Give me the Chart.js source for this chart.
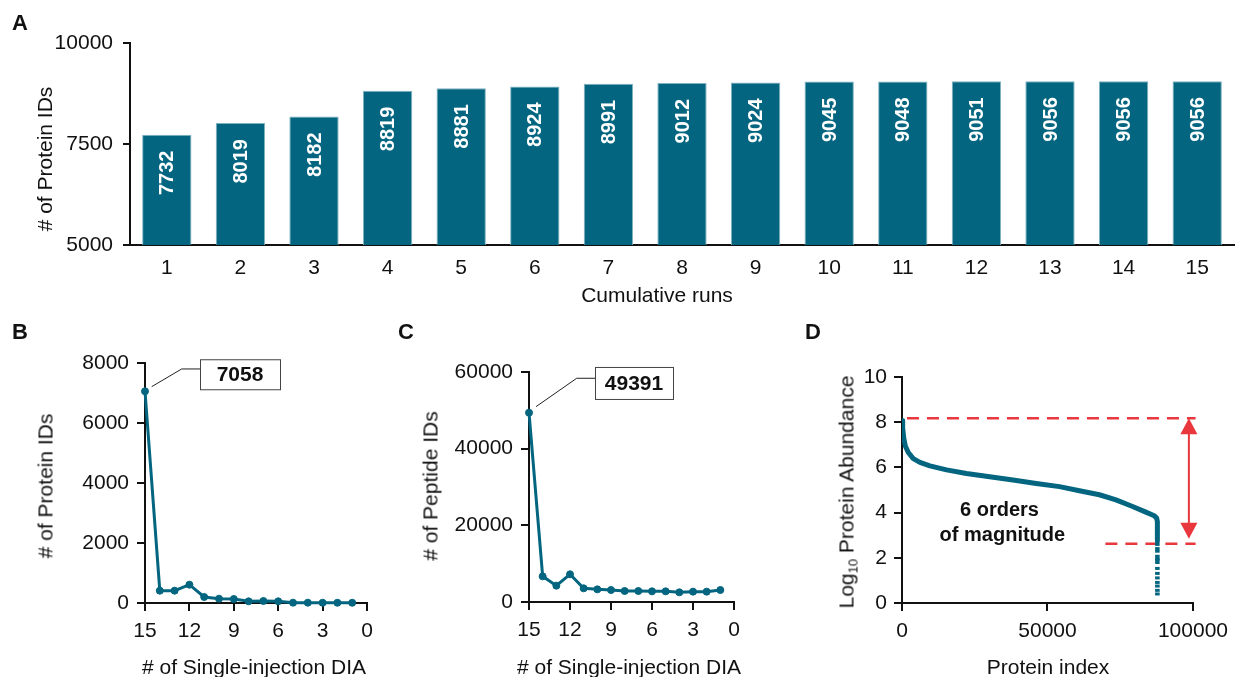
<!DOCTYPE html>
<html>
<head>
<meta charset="utf-8">
<script src="https://cdn.jsdelivr.net/npm/chart.js@4.4.1/dist/chart.umd.min.js"></script>
<style>
html, body { margin: 0; padding: 0; background: #fff; }
body { width: 1236px; height: 677px; position: relative; overflow: hidden;
       font-family: "Liberation Sans", Arial, Helvetica, sans-serif; color: #111; }
canvas { position: absolute; }
.t { position: absolute; white-space: nowrap; font-size: 21px; line-height: 1; transform: translate(-50%, -50%); }
.r { transform: translate(-50%, -50%) rotate(-90deg); }
.p { position: absolute; font-weight: bold; font-size: 22px; line-height: 1; }
sub { font-size: 13px; vertical-align: -4px; line-height: 0; }
</style>
</head>
<body>
<canvas id="chartA" width="1236" height="320" style="left:0;top:0"></canvas>
<canvas id="chartB" width="395" height="357" style="left:0;top:320px"></canvas>
<canvas id="chartC" width="395" height="357" style="left:400px;top:320px"></canvas>
<canvas id="chartD" width="436" height="357" style="left:800px;top:320px"></canvas>

<div class="p" style="left:12px;top:12px">A</div>
<div class="p" style="left:12px;top:321px">B</div>
<div class="p" style="left:398px;top:321px">C</div>
<div class="p" style="left:805px;top:321px">D</div>

<div class="t r" style="left:44px;top:159px"># of Protein IDs</div>
<div class="t" style="left:657px;top:294px">Cumulative runs</div>
<div class="t r" style="left:45px;top:486px"># of Protein IDs</div>
<div class="t" style="left:254px;top:666px"># of Single-injection DIA</div>
<div class="t r" style="left:430px;top:486px"># of Peptide IDs</div>
<div class="t" style="left:629px;top:666px"># of Single-injection DIA</div>
<div class="t r" style="left:846px;top:492px">Log<sub>10</sub> Protein Abundance</div>
<div class="t" style="left:1048px;top:666px">Protein index</div>

<script>
// panel A: cumulative protein IDs
const runs = ['1', '2', '3', '4', '5', '6', '7', '8', '9', '10', '11', '12', '13', '14', '15'];
const cumulativeIDs = [7732, 8019, 8182, 8819, 8881, 8924, 8991, 9012, 9024, 9045, 9048, 9051, 9056, 9056, 9056];

// panels B and C: IDs found in exactly n single-injection runs
const injections = [15, 14, 13, 12, 11, 10, 9, 8, 7, 6, 5, 4, 3, 2, 1];
const proteinIDs = [7058, 411, 411, 611, 200, 144, 133, 56, 67, 56, 11, 11, 8, 8, 8];
const peptideIDs = [49391, 6700, 4260, 7220, 3570, 3300, 3130, 2870, 2870, 2780, 2780, 2520, 2700, 2700, 3130];

// panel D: ranked protein abundance
const proteinIndex = [0, 230, 570, 1140, 2170, 3880, 6170, 9590, 15300, 22150, 30150, 38140, 46140,
                      54130, 60980, 67830, 73540, 79250, 83820, 86680, 87500, 87770, 87770];
const log10Abundance = [8.08, 7.76, 7.32, 6.95, 6.66, 6.39, 6.22, 6.07, 5.89, 5.73, 5.59, 5.44, 5.29,
                        5.15, 4.97, 4.79, 4.56, 4.27, 4.02, 3.86, 3.77, 3.6, 2.8];
const tailIndex = [87770, 87770, 87770, 87770];
const tailAbundance = [2.65, 2.35, 2.01, 1.85];
const lowIndex = [87770, 87770, 87770, 87770, 87770, 87770, 87770];
const lowAbundance = [1.53, 1.31, 1.11, 0.91, 0.75, 0.56, 0.4];
const upperLineX = [1700, 100900];
const upperLineY = [8.17, 8.17];
const lowerLineX = [69900, 100900];
const lowerLineY = [2.62, 2.62];
const rangeArrow = [98600, 8.17, 2.62];

const teal = '#03657f';
const ink = '#111';
const fontFamily = '"Liberation Sans", Arial, Helvetica, sans-serif';
Chart.defaults.font.family = fontFamily;
Chart.defaults.font.size = 21;
Chart.defaults.color = ink;

function plain(v) { return String(v); }

function axis(opts) {
    return Object.assign({
        border: { display: true, color: ink, width: 2 },
        grid: { display: true, drawOnChartArea: false, drawTicks: true, tickLength: 8, color: ink, lineWidth: 2 },
        ticks: { color: ink, font: { size: 21 }, padding: 8, callback: plain, maxRotation: 0 }
    }, opts);
}

const barLabels = {
    id: 'barLabels',
    afterDatasetsDraw(chart) {
        const ctx = chart.ctx;
        const meta = chart.getDatasetMeta(0);
        const values = chart.data.datasets[0].data;
        ctx.save();
        ctx.fillStyle = '#fff';
        ctx.font = 'bold 20px ' + fontFamily;
        ctx.textAlign = 'right';
        ctx.textBaseline = 'middle';
        meta.data.forEach((bar, i) => {
            ctx.save();
            ctx.translate(bar.x + 1, bar.y + 16);
            ctx.rotate(-Math.PI / 2);
            ctx.fillText(String(values[i]), 0, 0);
            ctx.restore();
        });
        ctx.restore();
    }
};

const callout = {
    id: 'callout',
    afterDatasetsDraw(chart, args, opts) {
        if (!opts.box) return;
        const ctx = chart.ctx;
        const pt = chart.getDatasetMeta(0).data[0];
        const value = chart.data.datasets[0].data[0].y;
        ctx.save();
        ctx.strokeStyle = '#222';
        ctx.lineWidth = 1;
        ctx.beginPath();
        opts.lead.forEach((d, i) => {
            if (i === 0) ctx.moveTo(pt.x + d[0], pt.y + d[1]);
            else ctx.lineTo(pt.x + d[0], pt.y + d[1]);
        });
        ctx.stroke();
        const b = opts.box;
        ctx.fillStyle = '#fff';
        ctx.fillRect(pt.x + b[0], pt.y + b[1], b[2], b[3]);
        ctx.strokeStyle = '#444';
        ctx.strokeRect(pt.x + b[0] + 0.5, pt.y + b[1] + 0.5, b[2], b[3]);
        ctx.fillStyle = ink;
        ctx.font = 'bold 21px ' + fontFamily;
        ctx.textAlign = 'center';
        ctx.textBaseline = 'middle';
        ctx.fillText(String(value), pt.x + b[0] + b[2] / 2, pt.y + b[1] + b[3] / 2 + 1);
        ctx.restore();
    }
};

const rangeNote = {
    id: 'rangeNote',
    afterDatasetsDraw(chart, args, opts) {
        if (!opts.lines) return;
        const ctx = chart.ctx;
        const xs = chart.scales.x, ys = chart.scales.y;
        const ax = xs.getPixelForValue(rangeArrow[0]);
        const yTop = ys.getPixelForValue(rangeArrow[1]);
        const yBot = ys.getPixelForValue(rangeArrow[2]) - 5;
        ctx.save();
        ctx.strokeStyle = '#e8383d';
        ctx.fillStyle = '#e8383d';
        ctx.lineWidth = 2;
        ctx.beginPath();
        ctx.moveTo(ax, yTop + 10);
        ctx.lineTo(ax, yBot - 10);
        ctx.stroke();
        ctx.beginPath();
        ctx.moveTo(ax, yTop);
        ctx.lineTo(ax - 8.5, yTop + 16);
        ctx.lineTo(ax + 8.5, yTop + 16);
        ctx.closePath();
        ctx.fill();
        ctx.beginPath();
        ctx.moveTo(ax, yBot);
        ctx.lineTo(ax - 8.5, yBot - 16);
        ctx.lineTo(ax + 8.5, yBot - 16);
        ctx.closePath();
        ctx.fill();
        ctx.fillStyle = ink;
        ctx.font = 'bold 20px ' + fontFamily;
        ctx.textAlign = 'center';
        ctx.textBaseline = 'middle';
        opts.lines.forEach(l => {
            ctx.fillText(l.text, xs.getPixelForValue(l.x), ys.getPixelForValue(l.y));
        });
        ctx.restore();
    }
};

function fixWidth(w) { return s => { s.width = w; }; }
function fixHeight(h) { return s => { s.height = h; }; }

new Chart(document.getElementById('chartA'), {
    type: 'bar',
    data: {
        labels: runs,
        datasets: [{
            data: cumulativeIDs,
            backgroundColor: teal,
            borderColor: '#7fb2c1',
            borderWidth: 1,
            borderSkipped: 'bottom',
            barPercentage: 0.67,
            categoryPercentage: 1
        }]
    },
    options: {
        responsive: false,
        animation: false,
        layout: { padding: { top: 43, right: 2, bottom: 0, left: 0 } },
        plugins: { legend: { display: false }, tooltip: { enabled: false } },
        scales: {
            x: axis({
                grid: { display: false, drawTicks: false },
                ticks: { color: ink, font: { size: 21 }, padding: 11, maxRotation: 0 },
                afterFit: fixHeight(75)
            }),
            y: axis({
                min: 5000, max: 10000,
                grid: { display: true, drawOnChartArea: false, drawTicks: true, tickLength: 7, color: ink, lineWidth: 2 },
                ticks: { color: ink, font: { size: 21 }, padding: 10, stepSize: 2500, callback: plain },
                afterFit: fixWidth(130)
            })
        }
    },
    plugins: [barLabels]
});

function lineChart(id, values, yMax, yStep, yWidth, pad, xHeight, box) {
    return new Chart(document.getElementById(id), {
        type: 'scatter',
        data: {
            datasets: [{
                data: injections.map((n, i) => ({ x: n, y: values[i] })),
                showLine: true,
                borderColor: teal,
                backgroundColor: teal,
                borderWidth: 3,
                pointRadius: 3.5,
                pointBorderWidth: 1,
                clip: false
            }]
        },
        options: {
            responsive: false,
            animation: false,
            layout: { padding: pad },
            plugins: { legend: { display: false }, tooltip: { enabled: false }, callout: box },
            scales: {
                x: axis({
                    type: 'linear', min: 0, max: 15, reverse: true,
                    ticks: { color: ink, font: { size: 21 }, padding: 8, stepSize: 3, callback: plain, maxRotation: 0 },
                    afterFit: fixHeight(xHeight)
                }),
                y: axis({
                    min: 0, max: yMax,
                    ticks: { color: ink, font: { size: 21 }, padding: 8, stepSize: yStep, callback: plain },
                    afterFit: fixWidth(yWidth)
                })
            }
        },
        plugins: [callout]
    });
}

lineChart('chartB', proteinIDs, 8000, 2000, 145,
    { top: 43, right: 28, bottom: 0, left: 0 }, 74,
    { lead: [[6.7, -4.6], [36.7, -22.3], [55, -22.3]], box: [55, -32, 80, 30] });
lineChart('chartC', peptideIDs, 60000, 20000, 129,
    { top: 52, right: 61, bottom: 0, left: 0 }, 75,
    { lead: [[7, -6], [47.7, -34.4], [66, -34.4]], box: [66, -45.7, 78, 32] });

function pairs(xs, ys) { return xs.map((x, i) => ({ x: x, y: ys[i] })); }

new Chart(document.getElementById('chartD'), {
    type: 'scatter',
    data: {
        datasets: [
            {
                data: pairs(proteinIndex, log10Abundance),
                showLine: true, borderColor: teal, borderWidth: 5, pointRadius: 0,
                borderJoinStyle: 'round', borderCapStyle: 'butt'
            },
            {
                data: pairs(tailIndex, tailAbundance),
                pointStyle: 'line', rotation: 90, pointRadius: 2.8,
                borderColor: teal, pointBorderColor: teal, pointBorderWidth: 4.5
            },
            {
                data: pairs(lowIndex, lowAbundance),
                pointStyle: 'line', rotation: 0, pointRadius: 2.3,
                borderColor: teal, pointBorderColor: teal, pointBorderWidth: 3
            },
            {
                data: pairs(upperLineX, upperLineY),
                showLine: true, borderColor: '#e8383d', borderWidth: 2.5, borderDash: [12, 8],
                pointRadius: 0, clip: false
            },
            {
                data: pairs(lowerLineX, lowerLineY),
                showLine: true, borderColor: '#e8383d', borderWidth: 2.5, borderDash: [12, 8],
                pointRadius: 0, clip: false
            }
        ]
    },
    options: {
        responsive: false,
        animation: false,
        layout: { padding: { top: 57, right: 42, bottom: 0, left: 0 } },
        plugins: {
            legend: { display: false }, tooltip: { enabled: false },
            rangeNote: { lines: [{ text: '6 orders', x: 33500, y: 4.1 }, { text: 'of magnitude', x: 34500, y: 3.0 }] }
        },
        scales: {
            x: axis({
                type: 'linear', min: 0, max: 100000,
                ticks: { color: ink, font: { size: 21 }, padding: 8, stepSize: 50000, callback: plain, maxRotation: 0 },
                afterFit: fixHeight(74)
            }),
            y: axis({
                min: 0, max: 10,
                ticks: { color: ink, font: { size: 21 }, padding: 7, stepSize: 2, callback: plain },
                afterFit: fixWidth(102)
            })
        }
    },
    plugins: [rangeNote]
});
</script>
</body>
</html>
